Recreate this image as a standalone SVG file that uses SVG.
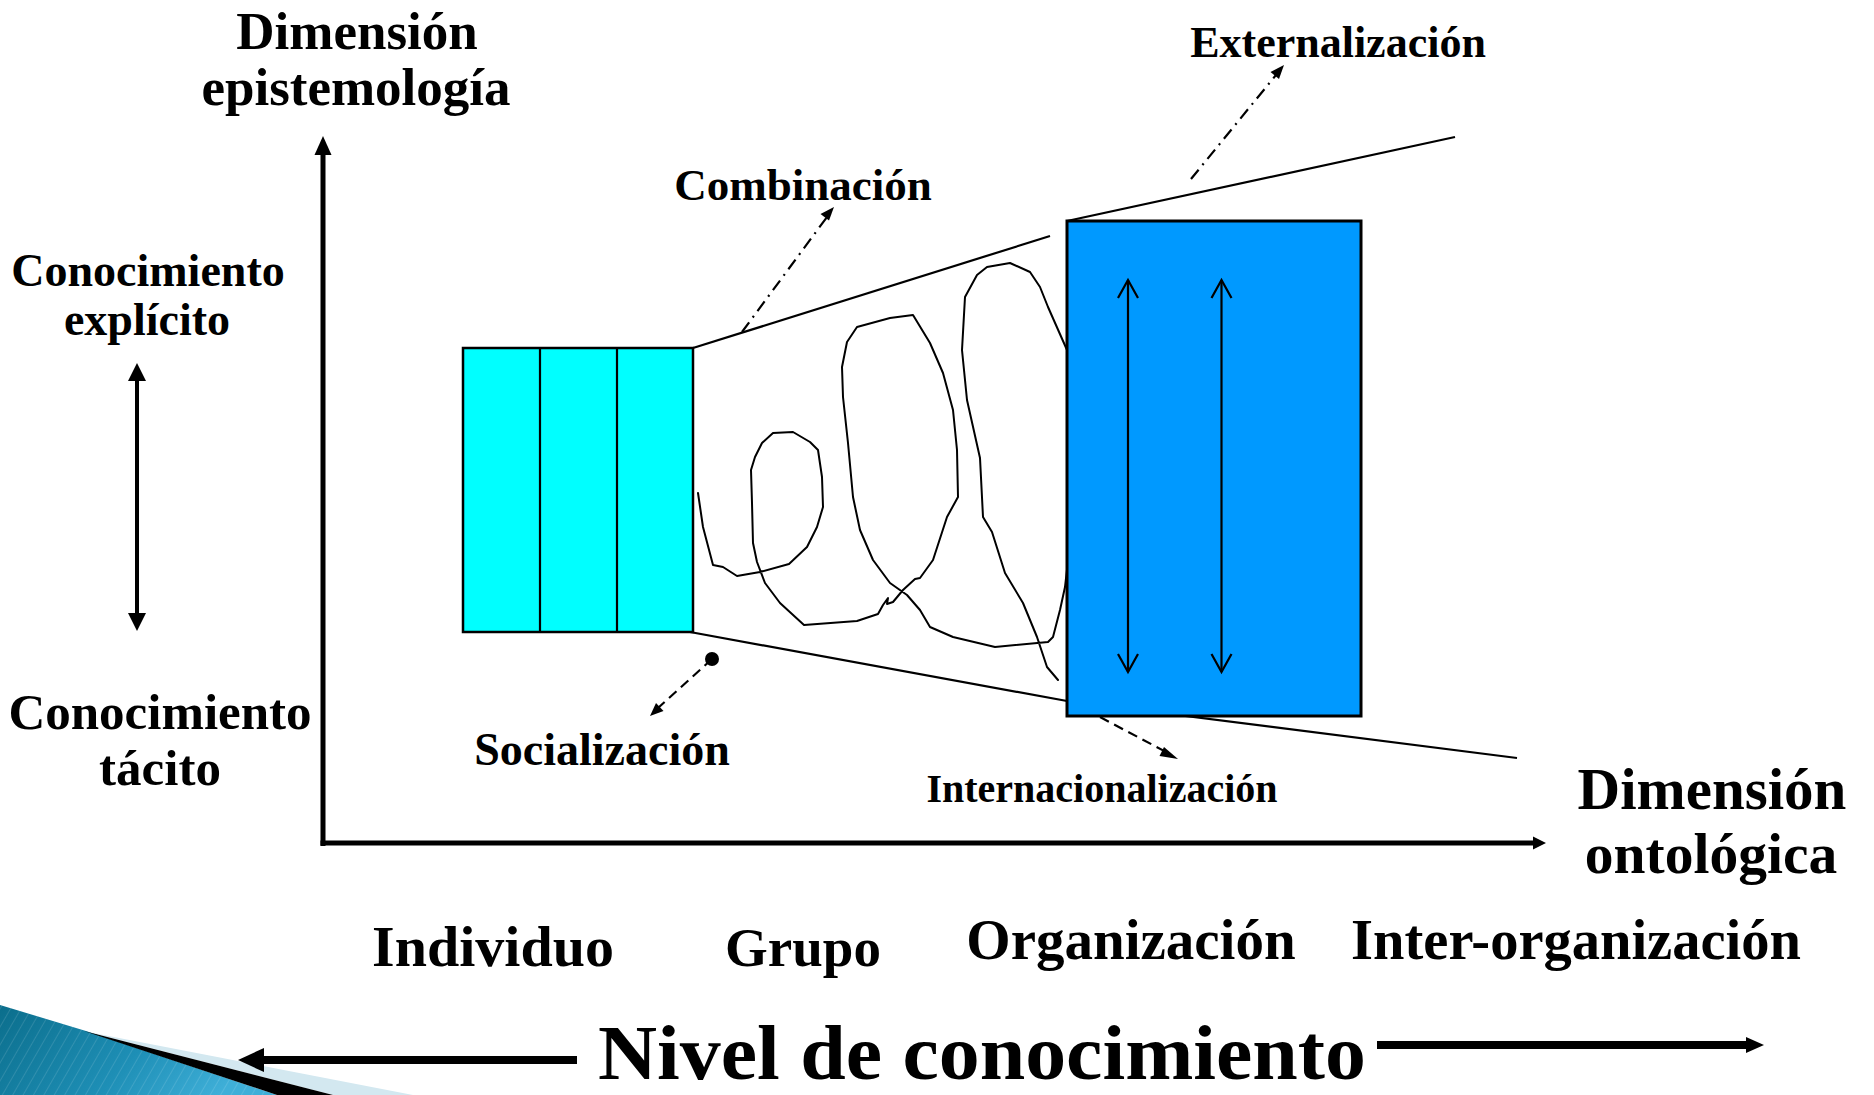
<svg xmlns="http://www.w3.org/2000/svg" width="1874" height="1095" viewBox="0 0 1874 1095">
<defs>
<style>
.t{font-family:"Liberation Serif","Times New Roman",serif;font-weight:bold;fill:#000;text-anchor:middle}
.ln{stroke:#000;fill:none;stroke-linecap:butt}
.thin{stroke:#000;stroke-width:2.2;fill:none}
.sq{stroke:#000;stroke-width:2;fill:none;stroke-linejoin:round;stroke-linecap:round}
.hd{fill:#000;stroke:none}
</style>
<linearGradient id="teal" x1="0" y1="0" x2="1" y2="0.3">
<stop offset="0" stop-color="#0B6E8C"/>
<stop offset="0.6" stop-color="#1E8FB6"/>
<stop offset="1" stop-color="#3FAFD8"/>
</linearGradient>
<pattern id="stripes" width="9" height="9" patternUnits="userSpaceOnUse" patternTransform="rotate(30)">
<line x1="0" y1="0" x2="0" y2="9" stroke="#ffffff" stroke-opacity="0.12" stroke-width="2"/>
</pattern>
</defs>
<rect width="1874" height="1095" fill="#ffffff"/>

<g id="decoration">
<polygon points="0,1005 86,1031 277,1095 0,1095" fill="url(#teal)"/>
<polygon points="0,1005 86,1031 277,1095 0,1095" fill="url(#stripes)"/>
<polygon points="88,1032 413,1095 333,1095" fill="#D3E8F0"/>
<polygon points="84,1031 333,1095 277,1095" fill="#000"/>
</g>

<g id="connectors">
<line class="ln" x1="323" y1="846" x2="323" y2="152" stroke-width="5"/>
<polygon class="hd" points="323,136 314.5,155 331.5,155"/>
<line class="ln" x1="320.5" y1="843" x2="1536" y2="843" stroke-width="5"/>
<polygon class="hd" points="1546,843 1533,836.5 1533,849.5"/>
<line class="ln" x1="137" y1="378" x2="137" y2="616" stroke-width="4"/>
<polygon class="hd" points="137,363 128,381 146,381"/>
<polygon class="hd" points="137,631 128,613 146,613"/>
<line class="thin" x1="693" y1="348" x2="1050" y2="236"/>
<line class="thin" x1="1067" y1="221" x2="1455" y2="137"/>
<line class="thin" x1="690" y1="632" x2="1067" y2="701"/>
<line class="thin" x1="1067" y1="701" x2="1517" y2="758"/>
<line class="thin" x1="742" y1="332" x2="827" y2="217" stroke-dasharray="12 6 2 6"/>
<polygon class="hd" points="834,207 820.5,214 829,220.5"/>
<line class="thin" x1="1191" y1="179" x2="1276" y2="75" stroke-dasharray="12 6 2 6"/>
<polygon class="hd" points="1284,65 1270.5,72 1279,79"/>
<circle cx="712" cy="659" r="7" fill="#000"/>
<line class="thin" x1="712" y1="659" x2="658" y2="708" stroke-dasharray="10 6"/>
<polygon class="hd" points="650,716 656,703 663.5,711"/>
<line class="thin" x1="1100" y1="717" x2="1168" y2="753" stroke-dasharray="10 6"/>
<polygon class="hd" points="1178,759 1164,747 1159.5,756"/>
<line class="ln" x1="577" y1="1060" x2="258" y2="1060" stroke-width="8"/>
<polygon class="hd" points="238,1060 264,1048 264,1072"/>
<line class="ln" x1="1377" y1="1045" x2="1750" y2="1045" stroke-width="8"/>
<polygon class="hd" points="1764,1045 1746,1037 1746,1053"/>
</g>

<g id="squiggle">
<path class="sq" d="M698,493 L703,527 L713,565 L723,567 L737,576 L760,572 L789,564 L807,547 L817,527 L823,507 L822,477 L818,450 L810,442 L793,432 L773,433 L762,443 L755,457 L751,470 L752,503 L753,543 L757,562 L765,583 L780,603 L804,625 L857,621 L878,614 L883,605 L888,598 L887,604 L893,602 L903,590 L915,579 L920,578 L933,560 L947,517 L958,497 L957,450 L953,410 L943,373 L930,343 L913,315 L890,318 L857,327 L847,342 L842,367 L843,397 L848,443 L853,497 L860,530 L873,560 L890,583 L907,595 L920,610 L930,627 L953,637 L995,647 L1048,642 L1053,637 L1060,610 L1065,587 L1075,500 L1072,380 L1067,350 L1048,307 L1040,287 L1030,272 L1010,263 L987,267 L977,275 L965,297 L962,350 L967,400 L980,458 L983,517 L992,532 L1005,573 L1023,603 L1037,637 L1047,667 L1058,680"/>
</g>

<g id="individual-box">
<rect x="463" y="348" width="230" height="284" fill="#00FFFF" stroke="#000" stroke-width="2.5"/>
<line class="thin" x1="540" y1="348" x2="540" y2="632" stroke-width="2.5"/>
<line class="thin" x1="617" y1="348" x2="617" y2="632" stroke-width="2.5"/>
</g>

<g id="organization-box">
<rect x="1067" y="221" width="294" height="495" fill="#0099FF" stroke="#000" stroke-width="3"/>
<line class="thin" x1="1128" y1="280" x2="1128" y2="672"/>
<polyline class="thin" points="1118,298 1128,280 1138,298"/>
<polyline class="thin" points="1118,654 1128,672 1138,654"/>
<line class="thin" x1="1221.5" y1="280" x2="1221.5" y2="672"/>
<polyline class="thin" points="1211.5,298 1221.5,280 1231.5,298"/>
<polyline class="thin" points="1211.5,654 1221.5,672 1231.5,654"/>
</g>

<g id="labels">
<text class="t" x="357" y="49" font-size="53">Dimensión</text>
<text class="t" x="356" y="105" font-size="53">epistemología</text>
<text class="t" x="148" y="286" font-size="46">Conocimiento</text>
<text class="t" x="147" y="335" font-size="46">explícito</text>
<text class="t" x="160" y="729" font-size="51">Conocimiento</text>
<text class="t" x="160" y="785" font-size="51">tácito</text>
<text class="t" x="803" y="200" font-size="45">Combinación</text>
<text class="t" x="1338" y="57" font-size="44">Externalización</text>
<text class="t" x="602" y="765" font-size="46">Socialización</text>
<text class="t" x="1102" y="802" font-size="40">Internacionalización</text>
<text class="t" x="1712" y="809" font-size="59">Dimensión</text>
<text class="t" x="1711" y="873" font-size="57.5">ontológica</text>
<text class="t" x="493" y="966" font-size="58">Individuo</text>
<text class="t" x="803" y="966" font-size="55">Grupo</text>
<text class="t" x="1131" y="959" font-size="57">Organización</text>
<text class="t" x="1576" y="959" font-size="56.5">Inter-organización</text>
<text class="t" x="982" y="1079" font-size="78" textLength="768" lengthAdjust="spacingAndGlyphs">Nivel de conocimiento</text>
</g>
</svg>
